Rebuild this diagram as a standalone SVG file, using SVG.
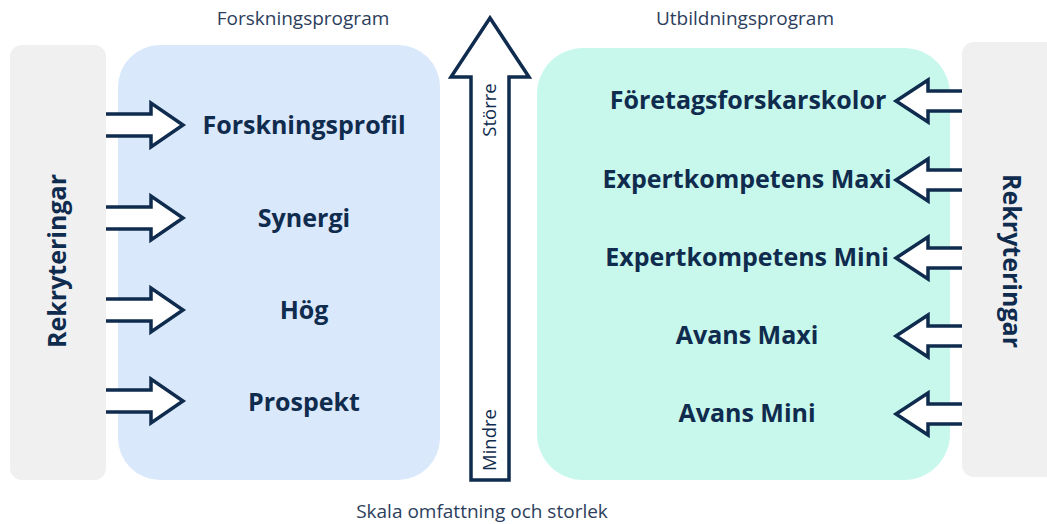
<svg xmlns="http://www.w3.org/2000/svg" width="1047" height="524" viewBox="0 0 1047 524">
<style>
.title{font-family:"Open Sans","Noto Sans",sans-serif;font-size:19px;fill:#2c3e5c;text-anchor:middle}
.lbl{font-family:"Open Sans","Noto Sans",sans-serif;font-weight:bold;font-size:25px;fill:#0f2b4d;text-anchor:middle}
.rek{font-family:"Open Sans","Noto Sans",sans-serif;font-weight:bold;font-size:25px;fill:#0f2b4d;text-anchor:middle}
.small{font-family:"Open Sans","Noto Sans",sans-serif;font-size:18.5px;fill:#0f2b4d;text-anchor:middle}
.arr{fill:#ffffff;stroke:#0f2b4d;stroke-width:3.5;stroke-linejoin:miter}
.gray{fill:#f0f0f1}
</style>
<rect width="1047" height="524" fill="#ffffff"/>
<text class="title" x="303" y="25">Forskningsprogram</text>
<text class="title" x="745" y="25">Utbildningsprogram</text>
<text class="title" x="482" y="518">Skala omfattning och storlek</text>

<g id="rek-left">
<rect class="gray" x="10" y="45" width="96" height="435" rx="12"/>
<text class="rek" transform="translate(66,261) rotate(-90)">Rekryteringar</text>
</g>
<g id="forskningsprogram">
<rect x="118" y="45" width="322" height="435" rx="42" fill="#dae8fb"/>
</g>
<g id="utbildningsprogram">
<rect x="537" y="48" width="413" height="432" rx="46" fill="#c8f8ec"/>
</g>
<g id="rek-right">
<rect class="gray" x="962" y="42" width="100" height="435" rx="12"/>
<text class="rek" transform="translate(1003,261) rotate(90)">Rekryteringar</text>
</g>

<g id="connectors">
<path class="arr" d="M106,114 H151 V103 L183,125 L151,147 V136 H106"/>
<path class="arr" d="M106,207 H151 V196 L183,218 L151,240 V229 H106"/>
<path class="arr" d="M106,299 H151 V288 L183,310 L151,332 V321 H106"/>
<path class="arr" d="M106,390 H151 V379 L183,401 L151,423 V412 H106"/>
<path class="arr" d="M962,91 H928 V80 L896,101 L928,122 V111 H962"/>
<path class="arr" d="M962,170 H928 V159 L896,180 L928,201 V190 H962"/>
<path class="arr" d="M962,248 H928 V237 L896,258 L928,279 V268 H962"/>
<path class="arr" d="M962,326 H928 V315 L896,336 L928,357 V346 H962"/>
<path class="arr" d="M962,404 H928 V393 L896,414 L928,435 V424 H962"/>
</g>

<g id="scale-arrow">
<path class="arr" d="M471,480 V77 H451 L490,18 L529,77 H509 V480 Z"/>
<text class="small" transform="translate(496,110) rotate(-90)">Större</text>
<text class="small" transform="translate(496,440) rotate(-90)">Mindre</text>
</g>

<g id="n-forskningsprofil"><text class="lbl" x="304" y="134">Forskningsprofil</text></g>
<g id="n-synergi"><text class="lbl" x="304" y="227">Synergi</text></g>
<g id="n-hog"><text class="lbl" x="304" y="319">Hög</text></g>
<g id="n-prospekt"><text class="lbl" x="304" y="411">Prospekt</text></g>
<g id="n-foretagsforskarskolor"><text class="lbl" x="748" y="109">Företagsforskarskolor</text></g>
<g id="n-expert-maxi"><text class="lbl" x="747" y="188">Expertkompetens Maxi</text></g>
<g id="n-expert-mini"><text class="lbl" x="747" y="266">Expertkompetens Mini</text></g>
<g id="n-avans-maxi"><text class="lbl" x="747" y="344">Avans Maxi</text></g>
<g id="n-avans-mini"><text class="lbl" x="747" y="422">Avans Mini</text></g>
</svg>
